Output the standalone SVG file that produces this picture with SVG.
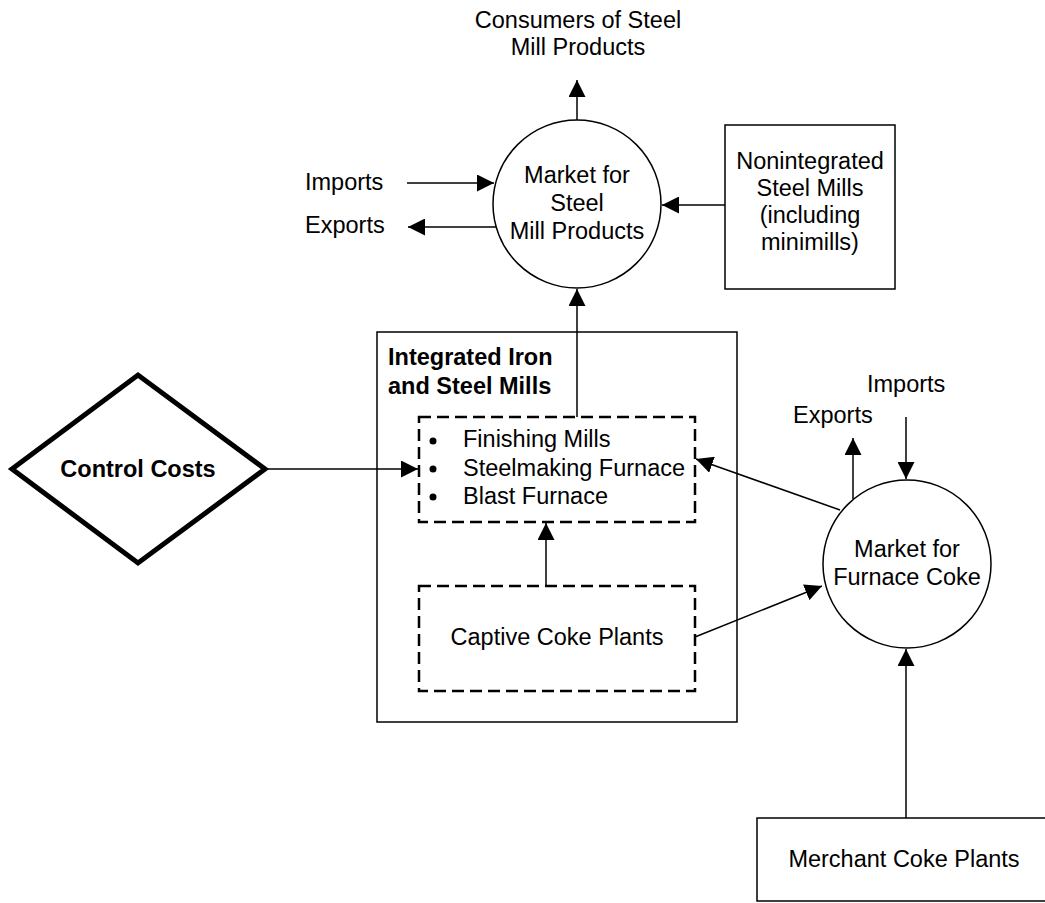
<svg xmlns="http://www.w3.org/2000/svg" width="1045" height="903" viewBox="0 0 1045 903">
<defs>
<style>
text{font-family:"Liberation Sans",Arial,sans-serif;font-size:23.5px;fill:#000}
.b{font-weight:bold}
.c{text-anchor:middle}
.box{fill:#fff;stroke:#000;stroke-width:1.5}
.dash{fill:none;stroke:#000;stroke-width:2.5;stroke-dasharray:12 6}
.ln{fill:none;stroke:#000;stroke-width:1.5;marker-end:url(#ah)}
</style>
<marker id="ah" markerUnits="userSpaceOnUse" viewBox="0 0 17 17" markerWidth="17" markerHeight="17" refX="17" refY="8.5" orient="auto">
<path d="M0,0 L17,8.5 L0,17 z" fill="#000"/>
</marker>
</defs>
<rect width="1045" height="903" fill="#fff"/>
<g id="consumers">
<text class="c" x="578" y="28">Consumers of Steel</text>
<text class="c" x="578" y="55">Mill Products</text>
</g>
<g id="market-steel">
<circle cx="577" cy="204" r="84" class="box"/>
<text class="c" x="577" y="183">Market for</text>
<text class="c" x="577" y="211">Steel</text>
<text class="c" x="577" y="239">Mill Products</text>
</g>
<g id="imports-steel"><text x="305" y="190">Imports</text></g>
<g id="exports-steel"><text x="305" y="233">Exports</text></g>
<g id="nonintegrated">
<rect x="725" y="125" width="170" height="164" class="box"/>
<text class="c" x="810" y="169">Nonintegrated</text>
<text class="c" x="810" y="196">Steel Mills</text>
<text class="c" x="810" y="223">(including</text>
<text class="c" x="810" y="250">minimills)</text>
</g>
<g id="integrated">
<rect x="377" y="332" width="360" height="390" class="box"/>
<text class="b" x="388" y="365">Integrated Iron</text>
<text class="b" x="388" y="394">and Steel Mills</text>
</g>
<g id="mills">
<rect x="419" y="417" width="276" height="105" class="dash"/>
<circle cx="433" cy="441" r="3.5"/>
<circle cx="433" cy="469" r="3.5"/>
<circle cx="433" cy="497" r="3.5"/>
<text x="463" y="447">Finishing Mills</text>
<text x="463" y="476">Steelmaking Furnace</text>
<text x="463" y="504">Blast Furnace</text>
</g>
<g id="captive">
<rect x="419" y="586" width="276" height="105" class="dash"/>
<text class="c" x="557" y="645">Captive Coke Plants</text>
</g>
<g id="control">
<polygon points="12,469 138,375 265,469 138,563" fill="#fff" stroke="#000" stroke-width="5" stroke-linejoin="miter"/>
<text class="b c" x="138" y="477">Control Costs</text>
</g>
<g id="market-coke">
<circle cx="907" cy="564" r="84" class="box"/>
<text class="c" x="907" y="557">Market for</text>
<text class="c" x="907" y="585">Furnace Coke</text>
</g>
<g id="imports-coke"><text x="867" y="392">Imports</text></g>
<g id="exports-coke"><text x="793" y="423">Exports</text></g>
<g id="merchant">
<rect x="757" y="818" width="300" height="83" class="box"/>
<text class="c" x="904" y="867">Merchant Coke Plants</text>
</g>
<g id="connectors">
<line x1="577" y1="120" x2="577" y2="80" class="ln"/>
<line x1="407" y1="183" x2="494" y2="183" class="ln"/>
<line x1="496" y1="227" x2="408" y2="227" class="ln"/>
<line x1="725" y1="205" x2="662" y2="205" class="ln"/>
<line x1="577" y1="417" x2="577" y2="289" class="ln"/>
<line x1="546" y1="586" x2="546" y2="523" class="ln"/>
<line x1="265" y1="469" x2="418" y2="469" class="ln"/>
<line x1="853" y1="499" x2="853" y2="438" class="ln"/>
<line x1="906" y1="417" x2="906" y2="479" class="ln"/>
<line x1="840" y1="510" x2="696" y2="459" class="ln"/>
<line x1="695" y1="637" x2="822" y2="586" class="ln"/>
<line x1="906" y1="818" x2="906" y2="649" class="ln"/>
</g>
</svg>
